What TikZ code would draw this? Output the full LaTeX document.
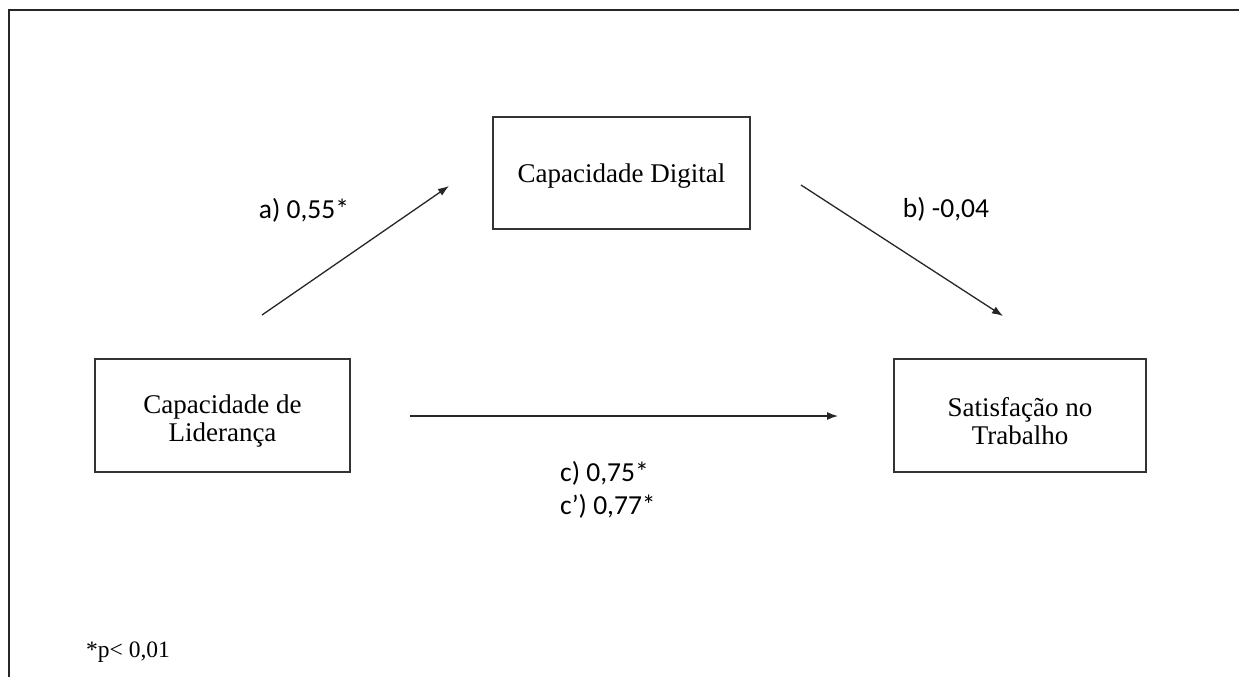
\documentclass[tikz,border=0pt]{standalone}
\usepackage{fontspec}
\setmainfont{Liberation Serif}
\newfontfamily\coeffont{Carlito}
\usetikzlibrary{arrows.meta}

\begin{document}
\begin{tikzpicture}[x=1pt, y=-1pt,
  varbox/.style={draw=black!80, line width=1.4pt, inner sep=0pt},
  vartext/.style={align=center, inner sep=0pt, font=\fontsize{27}{27.5}\selectfont},
  effect/.style={draw=black!85, line width=1.3pt, -{Latex[length=11pt,width=8pt]}},
  coef/.style={font=\coeffont\fontsize{27.5}{33}\selectfont, inner sep=0pt, align=center},
  note/.style={font=\fontsize{23.5}{26}\selectfont, inner sep=0pt, anchor=west}]
\useasboundingbox (0,0) rectangle (1239,677);

% open frame (top and left edges)
\draw[line width=2pt, black!85] (8.5,677) -- (8.5,10) -- (1239,10);

% variable boxes
\node[varbox, minimum width=257pt, minimum height=112pt] (dig) at (621.5,173) {};
\node[varbox, minimum width=255pt, minimum height=113pt] (lid) at (222.5,415.5) {};
\node[varbox, minimum width=252pt, minimum height=113pt] (sat) at (1020,415.5) {};

% variable names
\node[vartext] (digT) at (621.5,176) {Capacidade Digital};
\node[vartext] (lidT) at (222.5,421) {Capacidade de\\Liderança};
\node[vartext] (satT) at (1020,421) {Satisfação no\\Trabalho};

% path end points
\coordinate (aS) at (262,315);
\coordinate (aE) at (449,186);
\coordinate (bS) at (801,185);
\coordinate (bE) at (1003,316);
\coordinate (cS) at (410,416);
\coordinate (cE) at (838,416);

\draw[effect] (aS) -- (aE);
\draw[effect] (bS) -- (bE);
\draw[effect] (cS) -- (cE);

% coefficients
\node[coef] (la) at (304,210) {a) 0,55*};
\node[coef] (lb) at (946,209) {b) -0,04};
\node[coef, align=left, anchor=west] (lc) at (560,489.5) {c) 0,75*\\c’) 0,77*};

% significance note
\node[note] (pn) at (86,652) {*p< 0,01};
\end{tikzpicture}
\end{document}
